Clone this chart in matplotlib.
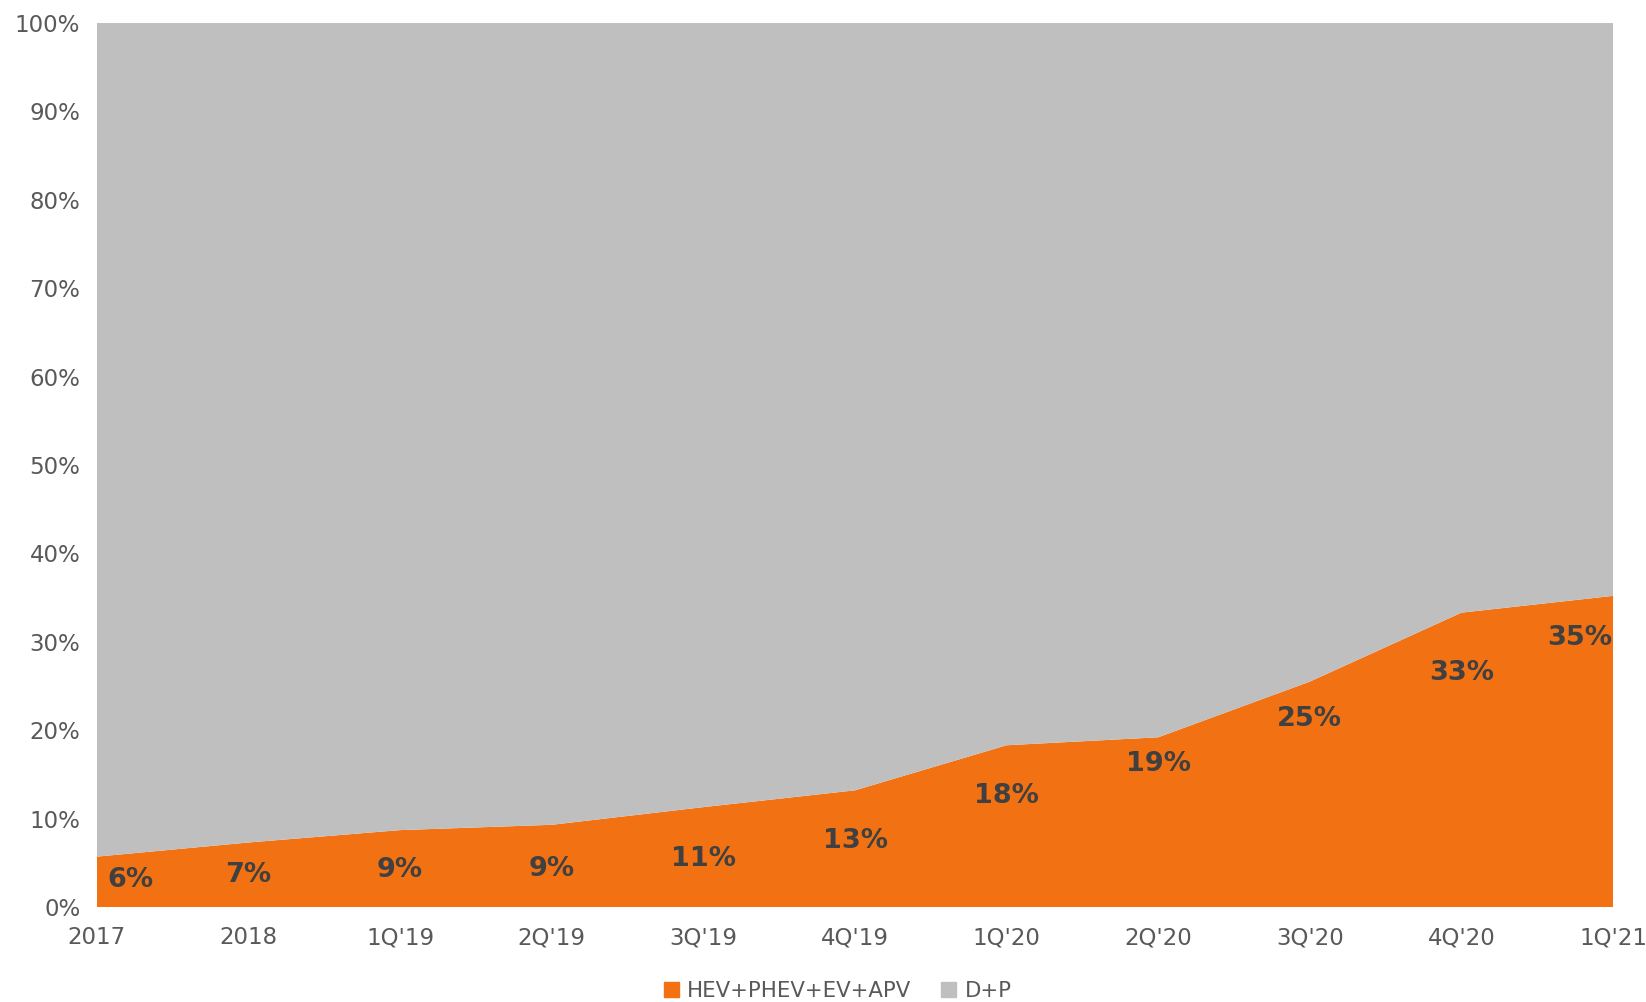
import matplotlib
matplotlib.use("Agg")
import matplotlib.pyplot as plt
from matplotlib.patches import Patch
import numpy as np

categories = ["2017", "2018", "1Q'19", "2Q'19", "3Q'19", "4Q'19", "1Q'20", "2Q'20", "3Q'20", "4Q'20", "1Q'21"]
hev_share = [5.7, 7.3, 8.7, 9.3, 11.3, 13.2, 18.3, 19.2, 25.5, 33.3, 35.2]
dp_share = [100 - v for v in hev_share]
label_texts = ["6%", "7%", "9%", "9%", "11%", "13%", "18%", "19%", "25%", "33%", "35%"]
label_y = [3.0, 3.6, 4.2, 4.3, 5.4, 7.5, 12.6, 16.2, 21.3, 26.5, 30.4]
label_dx = [0.22, 0, 0, 0, 0, 0, 0, 0, 0, 0, -0.22]

orange = "#F27213"
gray = "#BFBFBF"

plt.rcParams['font.family'] = ['DejaVu Sans']
fig = plt.figure(figsize=(16.46, 10.02), dpi=100)
ax = fig.add_axes([0.0589, 0.0948, 0.9211, 0.8822])

x = np.arange(len(categories))
ax.stackplot(x, hev_share, dp_share, colors=[orange, gray], linewidth=0)

for i, (t, yv) in enumerate(zip(label_texts, label_y)):
    ax.text(x[i] + label_dx[i], yv, t, ha="center", va="center",
            fontsize=19.5, fontweight="bold", color="#404040")

ax.set_xlim(0, len(categories) - 1)
ax.set_ylim(0, 100)
ax.set_xticks(x)
ax.set_xticklabels(categories)
ax.set_yticks(np.arange(0, 101, 10))
ax.set_yticklabels([f"{v}%" for v in range(0, 101, 10)])
ax.tick_params(axis="both", length=0, labelsize=16.5, labelcolor="#595959")
ax.tick_params(axis="x", pad=14)
ax.tick_params(axis="y", pad=12)
for s in ax.spines.values():
    s.set_visible(False)

handles = [Patch(color=orange, label="HEV+PHEV+EV+APV"), Patch(color=gray, label="D+P")]
fig.legend(handles=handles, loc="center", bbox_to_anchor=(0.509, 0.011), ncol=2,
           frameon=False, fontsize=15.3, labelcolor="#595959",
           handlelength=0.7, handleheight=0.7, handletextpad=0.4, columnspacing=1.4)

fig.savefig("out.png", dpi=100)
